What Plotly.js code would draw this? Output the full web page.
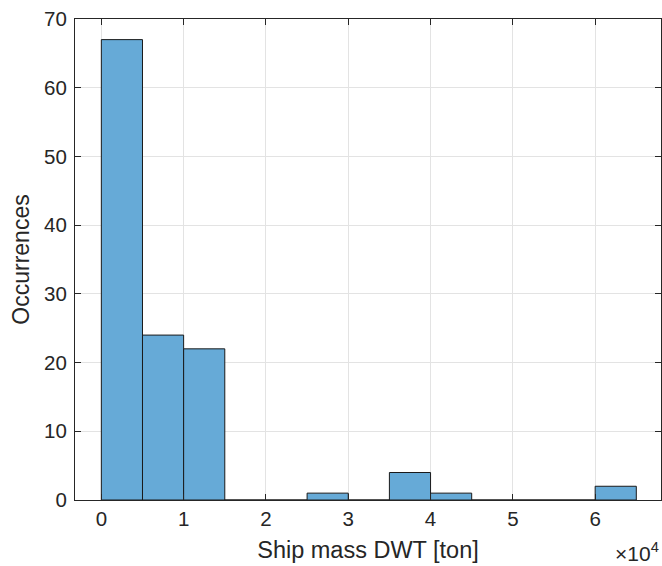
<!DOCTYPE html>
<html><head><meta charset="utf-8">
<script src="https://cdn.plot.ly/plotly-3.0.1.min.js"></script>
<style>html,body{margin:0;padding:0;background:#fff;}#chart{width:662px;height:566px;}</style>
</head><body><div id="chart"></div>
<script>
// Histogram bins (ship mass DWT in tons), bin width 5000
const binStarts = [0, 5000, 10000, 15000, 20000, 25000, 30000, 35000, 40000, 45000, 50000, 55000, 60000];
const counts    = [67, 24, 22, 0, 0, 1, 0, 4, 1, 0, 0, 0, 2];
const binWidth = 5000;
const xTickVals = [0, 10000, 20000, 30000, 40000, 50000, 60000];
const xTickText = ['0', '1', '2', '3', '4', '5', '6'];
const yTickVals = [0, 10, 20, 30, 40, 50, 60, 70];

const centers = binStarts.map(s => s + binWidth / 2);
const axisColor = '#262626';
const gridColor = '#e3e3e3';

const trace = {
  type: 'bar',
  x: centers,
  y: counts,
  width: binStarts.map(() => binWidth),
  marker: { color: 'rgb(102,170,215)', line: { color: '#1a1a1a', width: 1 } },
  hoverinfo: 'x+y'
};

const layout = {
  width: 662, height: 566,
  margin: { l: 75, r: 1, t: 19, b: 66 },
  paper_bgcolor: '#fff', plot_bgcolor: '#fff',
  font: { family: 'Liberation Sans, Arial, sans-serif', color: axisColor, size: 20 },
  showlegend: false,
  bargap: 0,
  xaxis: {
    range: [-3200, 68000],
    tickvals: xTickVals, ticktext: xTickText,
    ticks: 'inside', ticklen: 6, tickcolor: axisColor, tickwidth: 1,
    showline: true, linecolor: axisColor, linewidth: 1, mirror: 'ticks',
    showgrid: true, gridcolor: gridColor, gridwidth: 1,
    zeroline: false,
    tickfont: { size: 20.5, color: axisColor },
    title: { text: 'Ship mass DWT [ton]', font: { size: 23.5, color: axisColor }, standoff: 12 }
  },
  yaxis: {
    range: [0, 70],
    tickvals: yTickVals,
    ticks: 'inside', ticklen: 6, tickcolor: axisColor, tickwidth: 1,
    showline: true, linecolor: axisColor, linewidth: 1, mirror: 'ticks',
    showgrid: true, gridcolor: gridColor, gridwidth: 1,
    zeroline: false,
    ticklabelstandoff: 3,
    tickfont: { size: 20.5, color: axisColor },
    title: { text: 'Occurrences', font: { size: 23, color: axisColor }, standoff: 8 }
  },
  annotations: [{
    xref: 'paper', yref: 'paper', x: 1, y: -0.108, xanchor: 'right', yanchor: 'middle',
    xshift: 0, showarrow: false,
    text: '×10<sup>4</sup>', font: { size: 21, color: axisColor }
  }]
};

Plotly.newPlot('chart', [trace], layout, { staticPlot: true, displayModeBar: false });
</script></body></html>
